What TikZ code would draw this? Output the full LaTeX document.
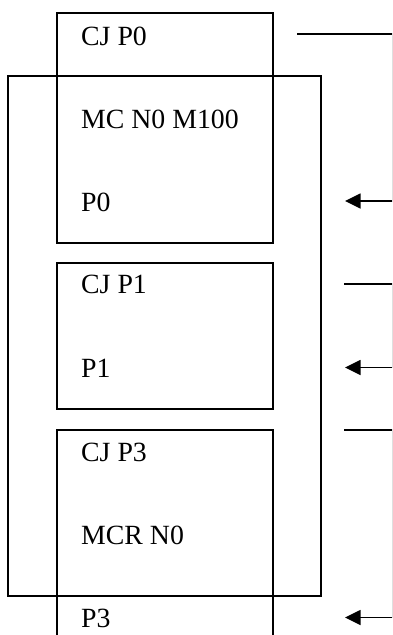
\documentclass[tikz,border=0pt]{standalone}
\usepackage{fontspec}
\setmainfont{Liberation Serif}
\usetikzlibrary{arrows.meta,positioning,calc}
\tikzset{
    blk/.style={draw,line width=1.7pt,inner sep=0pt,outer sep=0pt,anchor=north west},
    lbl/.style={anchor=base west,inner sep=0pt,font=\fontsize{27.8}{33}\selectfont},
    link/.style={line width=1.7pt,-{Triangle[length=15.7pt,width=15pt]}},
}

\begin{document}
\begin{tikzpicture}[x=1pt,y=-1pt]
    \useasboundingbox (0,0) rectangle (392,635);
    \clip (0,0) rectangle (392,635);

    % blocks
    \node[blk,minimum width=313pt,minimum height=520pt] (mc) at (8,76) {};
    \node[blk,minimum width=216pt,minimum height=229.7pt] (cj0) at (57,13) {};
    \node[blk,minimum width=216pt,minimum height=146pt] (cj1) at (57,263) {};
    \node[blk,minimum width=216pt,minimum height=230pt] (cj3) at (57,430) {};

    % labels
    \node[lbl] (t0) at (81,45) {CJ P0};
    \node[lbl] (m0) at (81,128) {MC N0 M100};
    \node[lbl] (p0) at (81,211) {P0};
    \node[lbl] (t1) at (81,293) {CJ P1};
    \node[lbl] (p1) at (81,377) {P1};
    \node[lbl] (t3) at (81,461) {CJ P3};
    \node[lbl] (m3) at (81,544) {MCR N0};
    \node[lbl] (p3) at (81,627) {P3};

    % jumps back along the right rail (rail sits on the page edge)
    \coordinate (rail) at (392.6,0);
    \coordinate (s0) at (297,34);
    \coordinate (e0) at (345,201);
    \coordinate (s1) at (344,284);
    \coordinate (e1) at (345,367.5);
    \coordinate (s3) at (344,430);
    \coordinate (e3) at (345,617.5);

    \draw[link] (s0) -- (s0 -| rail) |- (e0);
    \draw[link] (s1) -- (s1 -| rail) |- (e1);
    \draw[link] (s3) -- (s3 -| rail) |- (e3);
\end{tikzpicture}
\end{document}
